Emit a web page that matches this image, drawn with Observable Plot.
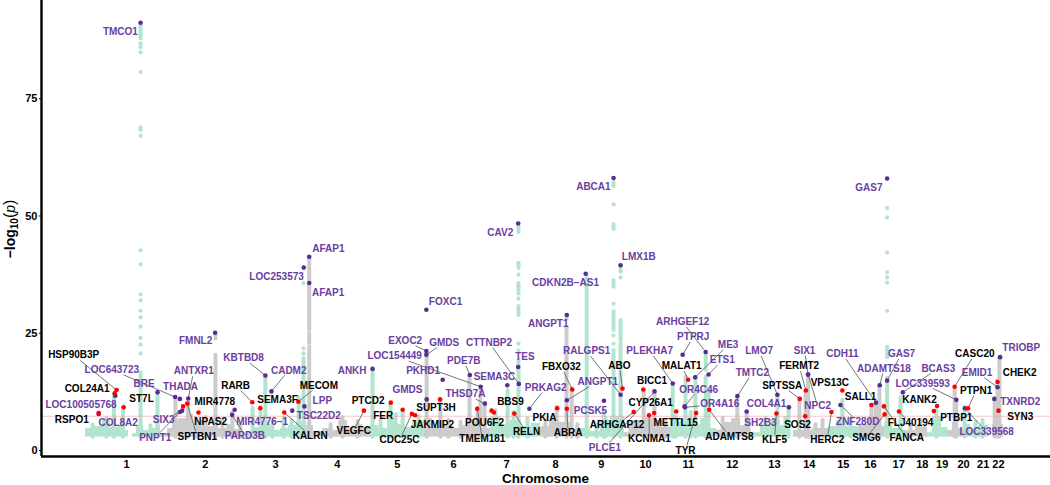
<!DOCTYPE html>
<html>
<head>
<meta charset="utf-8">
<script src="https://cdn.jsdelivr.net/npm/d3@7"></script>
<script src="https://cdn.jsdelivr.net/npm/@observablehq/plot@0.6"></script>
<style>html,body{margin:0;padding:0;background:#fff}svg{display:block}</style>
</head>
<body>
<div id="chart"></div>
<script>
// Positions are cumulative genome positions in Mb; heights are -log10(p).
const chromNames = ["1","2","3","4","5","6","7","8","9","10","11","12","13","14","15","16","17","18","19","20","21","22"];
const chromTicks = [125,371,591,784,971,1147,1313,1466,1609,1747,1881,2018,2150,2259,2365,2450,2538,2612,2674,2741,2802,2850];
const significance = 7.3;
const floorLevel = 2.85;

// Skyline of sub-threshold signal: [start, end, top]
const greenSkyline = [[-3,19,4.7],[19,50,5.1],[50,75,6.4],[75,100,4.9],[100,119,5.3],[119,131,4.3],[144,156,3.6],[156,178,5.3],[178,200,4.3],[200,216,4.7],[216,231,5.3],[231,253,3.6],
[503,525,3.8],[525,550,4.9],[550,575,5.5],[575,606,4.3],[606,631,4.7],[631,656,5.3],[656,688,6.0],
[888,913,5.3],[913,941,4.7],[941,966,6.8],[966,997,5.5],[997,1019,4.9],[1019,1056,6.4],
[1263,1294,7.2],[1294,1325,5.5],[1325,1359,6.4],[1359,1391,5.1],[1391,1419,5.8],
[1544,1575,4.7],[1575,1606,4.1],[1606,1638,6.4],[1638,1681,7.2],
[1825,1856,6.0],[1856,1894,6.8],[1894,1919,5.5],[1919,1944,6.8],[1944,1969,4.7],
[2075,2106,3.8],[2106,2138,5.1],[2138,2169,6.4],[2169,2200,5.3],
[2319,2344,5.1],[2344,2375,6.4],[2375,2413,5.1],
[2494,2519,6.0],[2519,2553,4.7],
[2628,2644,3.8],[2644,2672,7.2],[2672,2691,4.9],
[2741,2763,5.5],[2763,2788,4.3],[2788,2819,5.3]];
const graySkyline = [[253,269,4.7],[269,288,6.4],[288,313,6.8],[313,334,7.7],[334,356,5.5],[356,375,6.4],[375,397,5.1],[397,413,6.4],[413,438,4.7],[438,463,5.5],[463,484,4.5],[484,503,3.6],
[688,709,5.3],[709,738,4.1],[738,769,4.7],[769,788,4.3],[788,816,6.4],[816,841,4.7],[841,863,5.5],[863,888,4.9],
[1056,1081,6.8],[1081,1113,4.9],[1113,1144,5.5],[1144,1175,4.7],[1175,1206,5.3],[1206,1238,6.2],[1238,1263,4.7],
[1419,1447,5.1],[1447,1478,6.4],[1478,1513,6.0],[1513,1544,4.5],
[1681,1706,3.8],[1706,1738,6.4],[1738,1775,7.0],[1775,1800,6.4],[1800,1825,4.9],
[1969,1994,4.3],[1994,2016,6.0],[2016,2044,6.8],[2044,2075,5.3],
[2209,2269,4.3],[2269,2319,4.7],
[2413,2444,5.5],[2444,2481,6.8],[2481,2494,5.1],
[2553,2591,4.3],[2591,2628,5.1],
[2691,2706,4.3],[2706,2725,6.0],[2725,2741,4.7],
[2831,2866,5.5]];

// Runs of overlapping SNPs: [position, low, high]
const greenRuns = [[86,2.85,11.7],[114,2.85,8.5],[169,2.85,16.6],[222,2.85,12.2],[169,87.8,90.5],
[519,2.85,9.0],[544,2.85,9.2],[559,2.85,15.6],[641,2.85,6.4],[663,2.85,11.3],[678,2.85,19.6],
[894,2.85,17.1],[950,2.85,10.0],[988,2.85,8.5],
[1316,2.85,12.8],[1350,2.85,19.2],[1334,2.85,8.1],[1350,46.5,47.5],[1350,38.8,39.9],[1350,34.1,35.6],[1350,28.8,30.7],
[1563,2.85,37.1],[1647,2.85,21.3],[1647,25.6,29.6],[1647,34.8,36.2],[1647,47.1,48.2],[1647,56.3,57.1],
[1669,2.85,22.8],[1669,23.5,27.7],[1669,38.0,38.8],[1616,2.85,8.5],
[1832,2.85,13.6],[1872,2.85,15.6],[1903,2.85,15.6],[1935,2.85,15.6],[1935,17.1,20.3],[1944,2.85,12.8],
[2159,2.85,11.7],[2194,2.85,9.2],[2362,2.85,10.7],[2502,2.85,15.4],[2502,19.8,22.0],[2544,2.85,11.3],
[2656,2.85,8.5],[2744,2.85,9.2],
[19,2.85,5.5],[62,2.85,6.8],[200,2.85,5.3],[581,2.85,6.2],[616,2.85,6.8],[919,2.85,6.4],[966,2.85,7.7],[1038,2.85,7.2],
[1278,2.85,8.5],[1378,2.85,6.8],[1594,2.85,5.5],[1622,2.85,6.8],[1841,2.85,7.2],[1888,2.85,8.1],
[2122,2.85,6.8],[2184,2.85,6.8],[2388,2.85,6.8],[2778,2.85,6.0],[2800,2.85,6.4]];
const grayRuns = [[278,2.85,11.3],[317,2.85,10.2],[403,2.85,20.3],[456,2.85,8.1],
[696,2.85,22.0],[696,22.8,24.9],[696,25.6,32.8],[696,33.0,41.1],
[1063,2.85,20.7],[1106,2.85,10.7],[1197,2.85,16.0],[1222,2.85,9.0],[1231,2.85,13.4],[1244,2.85,10.0],
[1469,2.85,9.2],[1500,2.85,23.0],[1500,23.5,26.2],[1516,2.85,13.2],
[1741,2.85,12.8],[1775,2.85,12.4],[2034,2.85,11.3],[2063,2.85,8.1],
[2228,2.85,11.1],[2247,2.85,12.4],[2255,2.85,15.8],
[2453,2.85,9.6],[2467,2.85,10.2],[2478,2.85,13.9],
[2713,2.85,13.4],[2718,2.85,10.7],[2853,2.85,19.8],[2847,2.85,14.9],[2838,2.85,11.1],
[341,2.85,6.8],[372,2.85,7.0],[425,2.85,6.4],[481,2.85,5.3],[763,2.85,5.5],[800,2.85,7.0],[847,2.85,6.2],
[1131,2.85,6.4],[1169,2.85,6.0],[1434,2.85,6.4],[1534,2.85,5.5],[1700,2.85,5.5],[1809,2.85,6.4],
[1988,2.85,6.8],[2069,2.85,6.4],[2278,2.85,5.5],[2300,2.85,6.4],[2575,2.85,5.5],[2606,2.85,6.4]];

// Isolated SNPs: [position, -log10 p]
const greenDots = [[169,86.8],[169,86.0],[169,84.9],[169,80.7],[169,68.9],[169,68.4],[169,67.1],[169,42.7],[169,39.7],[169,33.3],[169,32.0],[169,29.8],[169,28.4],[169,26.4],[169,24.0],[169,22.6],[169,20.7],
[678,35.7],[678,21.8],[678,20.7],
[1350,37.5],[1350,33.5],[1350,32.4],[1350,22.8],[1350,21.3],
[1647,52.5],[1647,31.3],[1647,24.5],[1647,22.8],[1669,36.9],
[2502,51.7],[2502,49.7],[2502,42.2],[2502,38.0],[2502,36.9],[2502,35.8],[2502,29.8]];
const grayDots = [[403,24.6],[403,23.9],[1500,28.1]];

// Purple-labelled genes
const purpleNames = ["TMCO1","AFAP1","LOC253573","AFAP1","FMNL2","LOC643723","LOC100505768","COL8A2","BRE","THADA","ANTXR1","SIX3","PNPT1","KBTBD8","CADM2","LPP","TSC22D2","MIR4776\u22121","PARD3B","FOXC1","ANKH","EXOC2","GMDS","LOC154449","PKHD1","PDE7B","SEMA3C","CTTNBP2","TES","THSD7A","GMDS","PRKAG2","ANGPT1","ANGPT1","RALGPS1","CDKN2B\u2212AS1","LMX1B","ABCA1","CAV2","PCSK5","PLEKHA7","PLCE1","OR4C46","OR4A16","ME3","ETS1","ARHGEF12","PTPRJ","TMTC2","LMO7","COL4A1","SH2B3","SIX1","NPC2","ZNF280D","CDH11","ADAMTS18","GAS7","GAS7","BCAS3","LOC339593","EMID1","TRIOBP","TXNRD2","LOC339568"];
const purplePos = [169,696,679,696,402,277,90,38,222,292,318,299,292,559,578,681,643,463,455,1062,894,1062,1062,1232,1113,1198,1315,1351,1349,1245,1063,1384,1501,1501,1669,1560,1669,1647,1349,1617,1832,1775,1869,1870,1902,1944,1935,1863,2034,2159,2195,2063,2255,2255,2356,2467,2479,2502,2502,2551,2718,2847,2855,2837,2745];
const purpleLogP = [91.2,41.3,39.0,35.7,25.1,11.4,11.7,7.8,12.4,11.0,11.1,8.5,8.2,16.0,12.6,9.4,8.5,8.7,7.6,30.0,17.4,21.2,20.4,13.6,15.1,16.1,13.9,14.2,17.8,10.0,10.9,8.9,28.9,10.7,11.9,37.7,39.5,58.1,48.4,10.6,14.3,12.6,9.4,9.2,15.6,16.2,21.0,20.4,11.6,11.9,9.2,8.3,16.2,16.2,9.7,10.2,13.9,58.0,14.9,12.4,10.8,13.5,19.9,11.0,9.0];
const purpleLabelPos = [106,756,594,755,341,79,-17,99,180,294,335,241,215,491,632,737,726,549,495,1122,830,996,1118,963,1052,1179,1275,1258,1370,1184,1003,1435,1443,1598,1563,1497,1726,1584,1293,1575,1760,1620,1913,1979,2005,1987,1863,1896,2081,2102,2125,2106,2244,2285,2410,2362,2492,2445,2547,2662,2613,2783,2921,2918,2813];
const purpleLabelLogP = [89.3,43.1,37.0,33.6,23.3,17.2,9.7,5.9,14.2,13.6,16.9,6.5,2.8,19.7,17.1,10.7,7.3,6.2,3.2,31.8,17.0,23.4,23.0,20.1,17.0,19.1,15.8,23.0,19.9,12.0,12.9,13.4,27.1,14.7,21.2,35.8,41.4,56.2,46.5,8.4,21.3,0.6,13.0,9.9,22.5,19.3,27.4,24.2,16.6,21.2,10.0,6.0,21.3,9.5,6.2,20.6,17.5,56.1,20.6,17.5,14.3,16.6,21.8,10.4,4.0];
const purpleLinked = ["LOC643723","ANTXR1","SIX3","PNPT1","KBTBD8","CADM2","PARD3B","EXOC2","LOC154449","PDE7B","CTTNBP2","THSD7A","PRKAG2","RALGPS1","PLEKHA7","PLCE1","OR4C46","OR4A16","ME3","ETS1","ARHGEF12","PTPRJ","TMTC2","LMO7","SIX1","NPC2","ZNF280D","CDH11","ADAMTS18","BCAS3","LOC339593","EMID1","LOC339568"];
const purpleLinkedExtra = [[22,"GMDS"],[33,"ANGPT1"],[58,"GAS7"]]; // index of the duplicate name that carries a connector

// Black-labelled genes
const blackNames = ["HSP90B3P","COL24A1","RSPO1","ST7L","SPTBN1","NPAS2","MIR4778","RARB","SEMA3F","MECOM","KALRN","VEGFC","PTCD2","FER","SUPT3H","CDC25C","JAKMIP2","POU6F2","BBS9","TMEM181","RELN","PKIA","ABRA","FBXO32","ABO","BICC1","CYP26A1","ARHGAP12","KCNMA1","METTL15","TYR","MALAT1","ADAMTS8","SPTSSA","KLF5","FERMT2","VPS13C","SOS2","HERC2","SALL1","FLJ40194","FANCA","SMG6","KANK2","PTBP1","CASC20","CHEK2","PTPN1","SYN3"];
const blackPos = [94,88,38,116,315,302,350,518,543,662,618,867,951,988,1105,1017,1027,1266,1273,1221,1337,1471,1501,1518,1675,1740,1774,1710,1758,1843,1905,1880,1946,2229,2156,2248,2362,2246,2328,2453,2539,2492,2494,2658,2648,2713,2847,2755,2850];
const blackLogP = [12.9,12.2,8.0,9.2,10.0,9.4,8.1,10.3,9.0,10.4,8.1,8.5,10.2,8.7,10.9,7.8,7.5,8.5,8.1,8.9,7.9,9.0,8.9,13.0,13.2,13.0,8.0,8.2,7.5,8.3,8.0,15.1,8.7,11.0,7.9,12.8,12.8,7.3,8.2,9.7,8.3,9.4,7.7,9.5,8.4,13.6,14.6,9.0,8.5];
const blackLabelPos = [-40,2,-46,172,346,388,401,466,597,726,699,835,880,927,1092,978,1081,1244,1325,1237,1375,1431,1505,1484,1665,1767,1763,1658,1759,1841,1872,1860,2009,2174,2150,2227,2323,2222,2315,2419,2575,2563,2437,2603,2718,2776,2916,2780,2918];
const blackLabelLogP = [20.3,13.1,6.5,11.0,3.0,6.2,10.4,13.9,10.9,13.9,3.2,4.2,10.7,7.5,9.0,2.2,5.5,6.0,10.3,2.4,3.9,6.9,3.7,17.8,18.1,14.9,10.1,5.5,2.4,5.8,0,18.0,3.0,13.9,2.2,18.0,14.4,5.4,2.3,11.5,5.8,2.7,2.7,10.9,7.0,20.6,16.6,12.8,7.2];
const blackLinked = ["HSP90B3P","SPTBN1","RARB","MECOM","KALRN","VEGFC","CDC25C","TMEM181","RELN","ABRA","FBXO32","ABO","ARHGAP12","KCNMA1","TYR","MALAT1","ADAMTS8","SPTSSA","KLF5","FERMT2","HERC2","FLJ40194","FANCA","SMG6","CASC20","PTPN1"];

// Colours
const mint = "#b2e4cf", grey = "#cccccc", violet = "#5b2a93", violetText = "#6a3ea1", red = "#ff0000";

const xDomain = [-140.6, 3012.5];
const yDomain = [-1.28, 95.95];
const mbPerPx = (xDomain[1] - xDomain[0]) / 1009;
const logPerPx = (yDomain[1] - yDomain[0]) / 456;

function genes(names, pos, logp, lpos, llogp, linked) {
  return names.map((name, i) => ({name, pos: pos[i], logp: logp[i], lpos: lpos[i], llogp: llogp[i], linked: linked(name, i)}));
}
const purple = genes(purpleNames, purplePos, purpleLogP, purpleLabelPos, purpleLabelLogP,
  (n, i) => purpleLinked.includes(n) || purpleLinkedExtra.some(e => e[0] === i));
const black = genes(blackNames, blackPos, blackLogP, blackLabelPos, blackLabelLogP,
  n => blackLinked.includes(n));

// connector stops at the edge of its label box
function connector(g) {
  const hw = g.name.length * 3.4 * mbPerPx, hh = 5 * logPerPx;
  const dx = g.pos - g.lpos, dy = g.logp - g.llogp;
  const t = Math.min(Math.abs(dx) > 0 ? hw / Math.abs(dx) : Infinity, Math.abs(dy) > 0 ? hh / Math.abs(dy) : Infinity, 1);
  return {x1: g.pos, y1: g.logp, x2: g.lpos + dx * t, y2: g.llogp + dy * t};
}
const links = [...purple, ...black].filter(g => g.linked).map(connector);

const labelFont = {fontFamily: "Liberation Sans, Arial, sans-serif", fontWeight: "bold", fontSize: 10};

const plot = Plot.plot({
  width: 1050,
  height: 485,
  marginLeft: 41,
  marginRight: 0,
  marginTop: 0,
  marginBottom: 29,
  style: {fontFamily: "Liberation Sans, Arial, sans-serif", background: "#fff", overflow: "visible"},
  x: {domain: xDomain, axis: null},
  y: {domain: yDomain, axis: null},
  marks: [
    Plot.rect(greenSkyline, {x1: d => d[0], x2: d => d[1], y1: floorLevel, y2: d => d[2], fill: mint}),
    Plot.rect(graySkyline, {x1: d => d[0], x2: d => d[1], y1: floorLevel, y2: d => d[2], fill: grey}),
    Plot.ruleX(greenRuns, {x: d => d[0], y1: d => d[1], y2: d => d[2], stroke: mint, strokeWidth: 4, strokeLinecap: "round"}),
    Plot.ruleX(grayRuns, {x: d => d[0], y1: d => d[1], y2: d => d[2], stroke: grey, strokeWidth: 4, strokeLinecap: "round"}),
    Plot.dot(greenDots, {x: d => d[0], y: d => d[1], r: 2.1, fill: mint}),
    Plot.dot(grayDots, {x: d => d[0], y: d => d[1], r: 2.1, fill: grey}),
    Plot.ruleY([significance], {stroke: "#f4a6a6", strokeWidth: 0.8, strokeOpacity: 0.8, x1: xDomain[0], x2: xDomain[1]}),
    Plot.link(links, {x1: "x1", y1: "y1", x2: "x2", y2: "y2", stroke: "#666666", strokeWidth: 0.9}),
    Plot.dot(purple, {x: "pos", y: "logp", r: 2.3, fill: violet}),
    Plot.dot(black, {x: "pos", y: "logp", r: 2.3, fill: red}),
    Plot.text(purple, {x: "lpos", y: "llogp", text: "name", fill: violetText, ...labelFont}),
    Plot.text(black, {x: "lpos", y: "llogp", text: "name", fill: "#000", ...labelFont}),
    Plot.ruleX([xDomain[0]], {stroke: "#000", strokeWidth: 2.4}),
    Plot.ruleY([yDomain[0]], {stroke: "#000", strokeWidth: 2.4}),
    Plot.axisY({ticks: [0, 25, 50, 75], tickSize: 2, tickPadding: 2, label: null, fontSize: 11, fontWeight: "bold", fill: "#000"}),
    Plot.axisX({ticks: chromTicks, tickFormat: d => chromNames[chromTicks.indexOf(d)], tickSize: 0, tickPadding: 4, label: null, fontSize: 11, fontWeight: "bold", fill: "#000"}),
    Plot.text(["Chromosome"], {x: 1434, frameAnchor: "bottom", dy: 26, fontSize: 13.5, fontWeight: "bold", fill: "#000"})
  ]
});

// y-axis title with a subscript and an italic p
const title = d3.select(plot).append("text")
  .attr("transform", "translate(15,229) rotate(-90)")
  .attr("text-anchor", "middle")
  .attr("font-family", "Liberation Sans, Arial, sans-serif")
  .attr("font-size", 14)
  .attr("font-weight", "bold")
  .attr("fill", "#000");
title.append("tspan").text("\u2212log");
title.append("tspan").text("10").attr("font-size", 10).attr("dy", 3);
title.append("tspan").text("(").attr("dy", -3).attr("font-size", 16).attr("font-weight", "normal");
title.append("tspan").text("p").attr("font-style", "italic").attr("font-weight", "normal");
title.append("tspan").text(")").attr("font-size", 16).attr("font-weight", "normal");

document.getElementById("chart").appendChild(plot);
</script>
</body>
</html>
